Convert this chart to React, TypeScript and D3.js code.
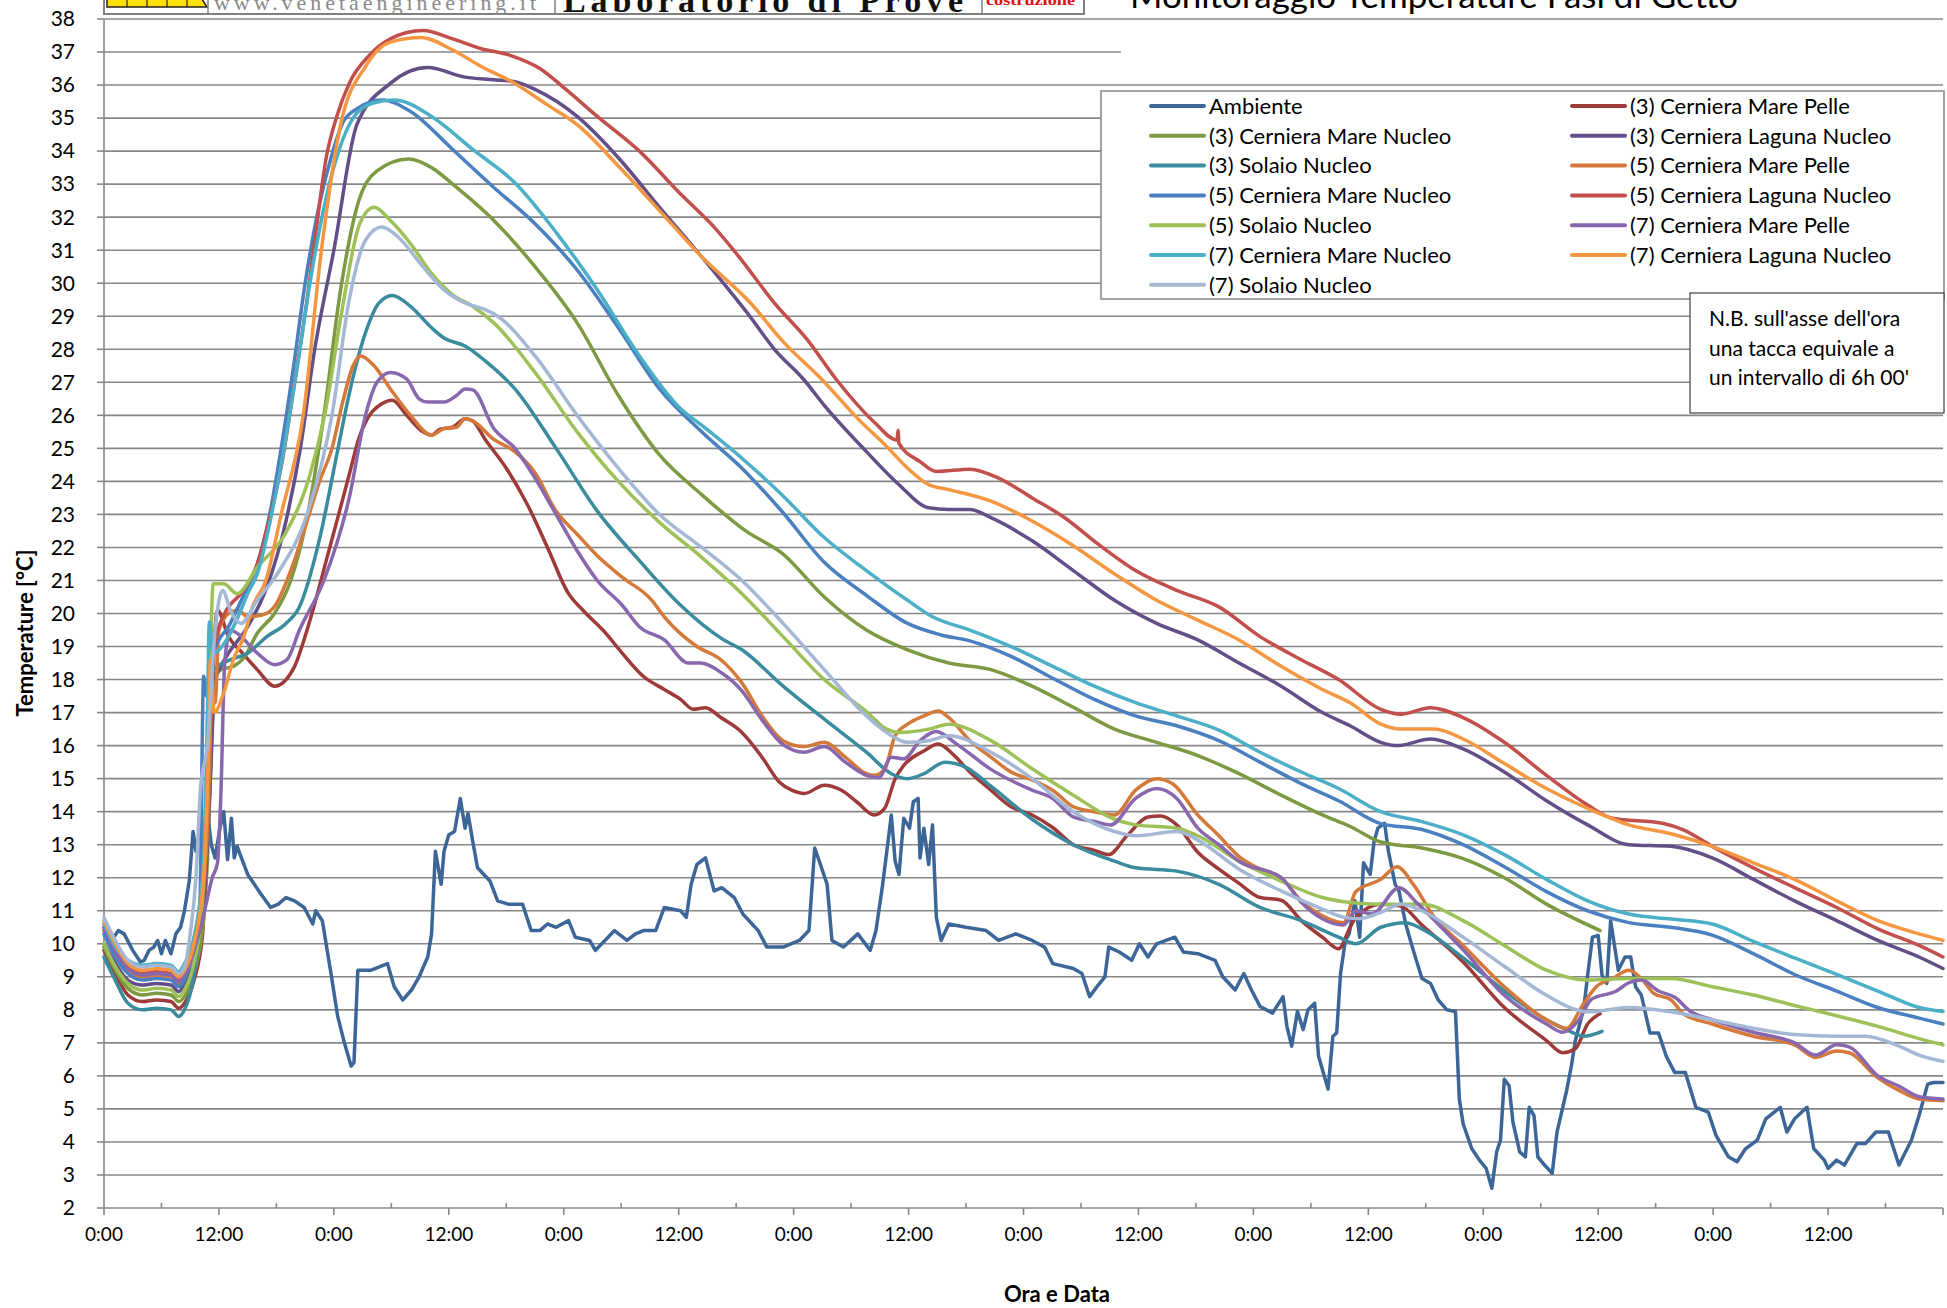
import React from "react";
import * as d3 from "d3";

const W = 1947;
const H = 1308;
const FONT = "Lato, 'Open Sans', sans-serif";
const SERIF = "'Liberation Serif', 'DejaVu Serif', serif";

// readings: [hours from start, temperature °C]
const ambiente = [
  [0, 10.4], [0.8, 10.1], [1.5, 10.4], [2.1, 10.3], [3, 9.8], [3.8, 9.45], [4.2, 9.5], [4.7, 9.8], [5.2, 9.9], [5.6, 10.1],
  [6, 9.7], [6.4, 10.1], [7, 9.7], [7.5, 10.3], [8, 10.5], [8.4, 11.0], [8.9, 11.9], [9.3, 13.4], [9.6, 12.8], [10, 13.4],
  [10.4, 12.9], [10.8, 14], [11.2, 13], [11.6, 12.6], [12.1, 13.5], [12.5, 14.0], [12.9, 12.55], [13.3, 13.8], [13.6, 12.6],
  [13.9, 12.95], [15, 12.1], [16.4, 11.5], [17.4, 11.1], [18.2, 11.2], [19, 11.4], [19.9, 11.3], [20.9, 11.1], [21.8, 10.6],
  [22.1, 11.0], [22.8, 10.7], [23.3, 9.8], [23.7, 9.1], [24.4, 7.8], [25.1, 7.0], [25.8, 6.3], [26.1, 6.4], [26.5, 9.2],
  [27.9, 9.2], [29.6, 9.4], [30.3, 8.7], [31.2, 8.3], [32.1, 8.6], [32.9, 9.0], [33.8, 9.6], [34.2, 10.3], [34.6, 12.8],
  [34.9, 12.3], [35.2, 11.8], [35.5, 12.8], [36, 13.3], [36.6, 13.4], [37.2, 14.4], [37.7, 13.5], [38, 13.95], [38.5, 13.1],
  [39, 12.3], [40.3, 11.9], [41.1, 11.3], [42.2, 11.2], [43.7, 11.2], [44.6, 10.4], [45.5, 10.4], [46.3, 10.6], [47.2, 10.5],
  [48.5, 10.7], [49.2, 10.2], [50.7, 10.1], [51.3, 9.8], [52.3, 10.1], [53.3, 10.4], [54.6, 10.1], [55.5, 10.3], [56.3, 10.4],
  [57.6, 10.4], [58.5, 11.1], [60.2, 11.0], [60.8, 10.8], [61.3, 11.8], [61.9, 12.4], [62.8, 12.6], [63.7, 11.6], [64.5, 11.7],
  [65.8, 11.4], [66.7, 10.9], [68.3, 10.4], [69.2, 9.9], [70.9, 9.9], [72.6, 10.1], [73.6, 10.4], [74.2, 12.9], [74.8, 12.4],
  [75.5, 11.8], [76, 10.1], [77.2, 9.9], [78.7, 10.3], [80, 9.8], [80.6, 10.4], [81.3, 11.8], [82.2, 13.9], [82.6, 12.5],
  [83, 12.1], [83.5, 13.8], [84.1, 13.5], [84.5, 14.3], [85, 14.4], [85.2, 12.6], [85.6, 13.5], [86.1, 12.4], [86.5, 13.6],
  [86.9, 10.8], [87.4, 10.1], [88.2, 10.6], [90, 10.5], [92.1, 10.4], [93.4, 10.1], [95.2, 10.3], [96.9, 10.1], [98.2, 9.9],
  [99.05, 9.4], [101.2, 9.25], [102.1, 9.1], [102.9, 8.4], [103.8, 8.75], [104.5, 9.0], [104.9, 9.9], [106, 9.75], [107.3, 9.5],
  [108.1, 10.0], [109, 9.6], [109.9, 10.0], [111.8, 10.2], [112.7, 9.75], [114.2, 9.7], [116, 9.5], [116.8, 9.0], [118.1, 8.6],
  [119, 9.1], [119.8, 8.6], [120.7, 8.1], [122, 7.9], [123.1, 8.4], [123.5, 7.5], [124, 6.9], [124.6, 7.95], [125.2, 7.4],
  [125.7, 8.0], [126.4, 8.2], [126.8, 6.6], [127.4, 6.0], [127.8, 5.6], [128.3, 7.2], [128.7, 7.3], [129.1, 9.1], [129.6, 10.1],
  [130, 10.3], [130.6, 11.3], [131.1, 10.2], [131.5, 12.45], [132.2, 12.1], [132.6, 13.1], [133, 13.5], [133.7, 13.65],
  [134.1, 12.8], [134.8, 11.8], [135.2, 11.6], [135.9, 10.6], [136.7, 9.8], [137.6, 8.95], [138.5, 8.8], [139.3, 8.3],
  [140.2, 8.0], [141.1, 7.95], [141.5, 5.3], [141.9, 4.55], [142.8, 3.8], [143.6, 3.45], [144.3, 3.2], [144.9, 2.6], [145.4, 3.7],
  [145.8, 4.05], [146.2, 5.9], [146.7, 5.7], [147.1, 4.6], [147.8, 3.7], [148.4, 3.55], [148.8, 5.05], [149.3, 4.8],
  [149.7, 3.55], [150.4, 3.3], [151.2, 3.05], [151.7, 4.3], [152.1, 4.8], [152.7, 5.55], [153.2, 6.3], [153.6, 7.05],
  [154.5, 8.05], [154.9, 9.05], [155.4, 10.2], [156, 10.25], [156.4, 9.05], [156.9, 8.8], [157.3, 10.7], [157.7, 9.95],
  [158.1, 9.2], [158.8, 9.6], [159.4, 9.6], [159.9, 8.7], [160.5, 8.45], [161.4, 7.3], [162.3, 7.3], [163.1, 6.6], [164, 6.1],
  [165.1, 6.1], [166.2, 5.05], [167.5, 4.9], [168.3, 4.2], [169.6, 3.55], [170.5, 3.4], [171.4, 3.8], [172.6, 4.05],
  [173.5, 4.7], [175, 5.05], [175.7, 4.3], [176.5, 4.7], [177.8, 5.05], [178.5, 3.8], [179.6, 3.45], [180, 3.2], [180.9, 3.45],
  [181.7, 3.3], [183, 3.95], [183.9, 3.95], [185, 4.3], [186.3, 4.3], [187.4, 3.3], [188.7, 4.05], [189.5, 4.8], [190.4, 5.75],
  [191, 5.8], [192, 5.8],
];

const cmp3 = [
  [0, 9.8], [1, 9.2], [2.5, 8.45], [4, 8.25], [5.5, 8.3], [7, 8.25], [7.8, 8.05], [8.4, 8.2], [9.4, 8.9], [10.3, 10.3],
  [10.6, 12], [11.1, 15], [11.5, 19], [11.85, 20.1], [13, 19.3], [14.3, 18.85], [16, 18.3], [17.8, 17.8], [19.9, 18.4],
  [21.2, 19.5], [22.1, 20.4], [23.2, 21.6], [24.5, 23.0], [25.6, 24.2], [26.6, 25.3], [27.5, 25.9], [29, 26.35], [30.1, 26.46],
  [31.6, 26.0], [33.3, 25.5], [34.2, 25.4], [35.1, 25.58], [36.4, 25.64], [37.7, 25.9], [38.5, 25.83], [39.8, 25.27], [42, 24.4],
  [44.2, 23.3], [46.3, 22.0], [48.5, 20.6], [50, 20.1], [52.4, 19.4], [54.1, 18.8], [56.3, 18.1], [58.5, 17.7], [60.2, 17.4],
  [61.5, 17.1], [62.8, 17.15], [64.4, 16.85], [66.6, 16.4], [68.7, 15.65], [70.5, 14.9], [71.8, 14.65], [73.1, 14.55],
  [75.2, 14.8], [77, 14.65], [78.7, 14.27], [80.4, 13.9], [81.5, 14.1], [82.6, 15.0], [83.5, 15.4], [85.6, 15.84], [87.1, 16.05],
  [88.7, 15.72], [90.4, 15.2], [92.6, 14.65], [94.7, 14.15], [96.9, 13.9], [99.05, 13.52], [101.2, 13.0], [103.4, 12.83],
  [104.9, 12.7], [106.8, 13.27], [109, 13.84], [110.3, 13.87], [112, 13.6], [114.2, 12.77], [116.4, 12.26], [118.5, 11.83],
  [120.7, 11.4], [122.9, 11.32], [125, 10.7], [127.2, 10.2], [128.9, 9.85], [130.1, 10.5], [130.7, 10.8], [133.3, 11.2],
  [135.4, 11.14], [137.6, 10.57], [141.9, 9.45], [146.2, 8.07], [150.6, 7.07], [152.3, 6.7], [153.6, 6.82], [154.9, 7.57],
  [156.2, 7.88],
];

const cmn3 = [
  [0, 9.9], [1, 9.3], [2.5, 8.65], [4, 8.45], [5.5, 8.5], [7, 8.45], [7.8, 8.25], [8.4, 8.4], [9.4, 9.1], [10.4, 10.8],
  [10.8, 12.5], [11.2, 16], [11.6, 18], [12.2, 18.3], [13.5, 18.4], [14.7, 18.7], [16, 19.4], [17.8, 20.0], [19.5, 21.0],
  [21.2, 22.9], [22.96, 26.0], [24.7, 29.8], [26.4, 32.3], [28.5, 33.4], [31.8, 33.76], [34.2, 33.5], [36.4, 33.0],
  [40.7, 31.9], [45, 30.5], [49.4, 28.8], [53.7, 26.6], [58, 24.8], [62.4, 23.6], [67, 22.5], [70.9, 21.8], [75.2, 20.5],
  [79.6, 19.5], [83.9, 18.9], [88.2, 18.5], [92.6, 18.3], [96.9, 17.8], [101.2, 17.16], [105.5, 16.5], [109.9, 16.1],
  [114.2, 15.7], [118.5, 15.15], [122.9, 14.5], [127.2, 13.9], [130.1, 13.55], [133.3, 13.08], [137.6, 12.9], [141.9, 12.58],
  [146.2, 12.0], [150.6, 11.2], [156.2, 10.4],
];

const cln3 = [
  [0, 10.0], [1, 9.5], [2.5, 8.9], [4, 8.75], [5.5, 8.8], [7, 8.75], [7.8, 8.55], [8.4, 8.8], [9.4, 9.6], [10.5, 11.5],
  [11.1, 15], [11.6, 18], [12.2, 18.4], [13, 18.8], [15, 19.6], [17, 20.8], [19, 22.8], [20.5, 25], [22, 28], [24, 31],
  [26.4, 34.8], [29.9, 36.05], [33.8, 36.53], [37.7, 36.24], [40.7, 36.16], [42.9, 36.1], [45, 35.87], [49.4, 35.05],
  [53.7, 33.8], [58, 32.3], [62.4, 30.8], [67.5, 28.97], [70, 28.0], [73.1, 27.07], [75.2, 26.3], [79.6, 24.9], [83, 23.9],
  [86.1, 23.2], [88.2, 23.15], [90.4, 23.15], [92.6, 22.9], [96.9, 22.2], [101.2, 21.3], [105.5, 20.4], [109.9, 19.7],
  [114.2, 19.2], [118.5, 18.5], [122.9, 17.8], [127.2, 17.0], [130.1, 16.6], [133.3, 16.1], [135, 16.0], [138.5, 16.2],
  [141.9, 15.9], [146.2, 15.2], [150.6, 14.33], [154.9, 13.6], [159.2, 13.0], [163.6, 12.95], [167.9, 12.6], [172.2, 11.95],
  [176.5, 11.3], [180.9, 10.7], [185.2, 10.1], [189.5, 9.6], [192, 9.25],
];

const sn3 = [
  [0, 9.6], [1, 9.0], [2.5, 8.2], [4, 8.0], [5.5, 8.05], [7, 8.0], [7.8, 7.8], [8.4, 8.0], [9.3, 8.9], [10, 10.5],
  [10.6, 13], [11, 17.5], [11.5, 18.3], [13.2, 18.6], [15, 18.8], [17, 19.3], [19, 19.7], [20.4, 20.2], [22.5, 22.25],
  [24.3, 24.8], [25.6, 26.65], [27.3, 28.5], [28.7, 29.4], [30.1, 29.63], [32, 29.3], [34.2, 28.65], [35.5, 28.34], [37.7, 28.1],
  [39.8, 27.65], [42.9, 26.8], [47.2, 25.0], [51.5, 23.1], [55.9, 21.6], [60.2, 20.25], [64.5, 19.24], [66.6, 18.9],
  [70.9, 17.8], [75.2, 16.8], [79.6, 15.8], [82.2, 15.15], [83.9, 15.0], [85.6, 15.15], [87.8, 15.5], [90, 15.34], [92.6, 14.77],
  [96.9, 13.77], [101.2, 13.0], [105.5, 12.5], [107.7, 12.3], [112, 12.2], [116.4, 11.8], [120.7, 11.1], [125, 10.7],
  [128.9, 10.2], [130.7, 10.0], [133.3, 10.5], [135.9, 10.64], [137.6, 10.45], [141.9, 9.57], [146.2, 8.57], [150.6, 7.7],
  [152.7, 7.4], [154.5, 7.2], [156.4, 7.35],
];

const cmp5 = [
  [0, 10.4], [1, 9.8], [2.5, 9.2], [4, 9.0], [5.5, 9.05], [7, 9.0], [7.8, 8.8], [8.4, 9.0], [9.4, 9.8], [10.5, 12],
  [11.0, 15], [11.3, 18.0], [11.6, 17.3], [12, 19.5], [13, 20.0], [14, 20.1], [15, 19.9], [16.5, 19.95], [18, 20.3],
  [19.1, 21.0], [20, 21.7], [21.2, 22.8], [22.5, 24.0], [23.8, 25.0], [25, 26.5], [26, 27.5], [26.8, 27.8], [28.2, 27.5],
  [29.9, 26.8], [32, 26.0], [34.2, 25.4], [35.5, 25.6], [36.8, 25.64], [37.7, 25.9], [38.5, 25.83], [40.7, 25.27], [42.9, 24.9],
  [45, 24.26], [47.2, 23.1], [49.4, 22.4], [51.5, 21.75], [54.1, 21.1], [57.2, 20.4], [58.5, 19.9], [61.9, 19.0], [64.4, 18.6],
  [66.6, 17.9], [68.7, 16.9], [70.9, 16.15], [73.1, 15.97], [75.2, 16.1], [77.4, 15.65], [79.6, 15.15], [80.4, 15.1],
  [81.5, 15.28], [82.6, 16.3], [83.9, 16.65], [85.6, 16.9], [87.1, 17.05], [88.2, 16.85], [90.4, 16.15], [92.6, 15.65],
  [94.7, 15.2], [96.9, 14.96], [99.05, 14.65], [101.2, 14.15], [103.4, 14.0], [105.5, 13.9], [107.7, 14.65], [109.9, 15.0],
  [111.6, 14.84], [114.2, 13.9], [116.4, 13.27], [118.5, 12.64], [120.7, 12.26], [122.9, 12.0], [125, 11.3], [127.2, 10.85],
  [129.4, 10.64], [130.7, 11.58], [133.3, 11.95], [135, 12.33], [136.7, 11.8], [138.9, 10.8], [141.9, 9.95], [146.2, 8.7],
  [150.6, 7.7], [152.7, 7.44], [154.5, 8.2], [155.8, 8.7], [157.5, 8.95], [159.2, 9.2], [160.5, 8.95], [161.8, 8.5],
  [163.6, 8.3], [164.9, 7.88], [167.9, 7.57], [172.2, 7.2], [176.5, 6.94], [178.7, 6.56], [180.9, 6.75], [182.2, 6.7],
  [185.2, 5.94], [187.4, 5.56], [189.5, 5.3], [192, 5.25],
];

const cmn5 = [
  [0, 10.3], [1, 9.7], [2.5, 9.1], [4, 8.9], [5.5, 8.95], [7, 8.9], [7.8, 8.7], [8.4, 8.9], [9.2, 9.7], [10.0, 11],
  [10.4, 18.1], [10.7, 17.5], [11.1, 18.5], [12, 19.2], [13, 19.6], [14, 20.2], [15, 20.8], [16, 21.5], [17.3, 23], [18.5, 25],
  [19.8, 27.5], [21, 30], [22.5, 32.4], [23.8, 33.9], [25, 34.9], [26.5, 35.3], [29, 35.55], [32, 35.2], [36.4, 34.05],
  [40.7, 32.9], [45, 31.8], [49.4, 30.4], [53.7, 28.65], [58, 26.8], [62.4, 25.5], [66.6, 24.4], [70.9, 23.05], [75.2, 21.55],
  [79.6, 20.55], [83.9, 19.7], [87.4, 19.35], [90.4, 19.17], [94.7, 18.7], [99.05, 18.04], [103.4, 17.4], [107.7, 16.9],
  [112, 16.6], [116.4, 16.15], [120.7, 15.5], [125, 14.85], [128.9, 14.33], [133.3, 13.64], [137.6, 13.46], [141.9, 13.0],
  [146.2, 12.33], [150.6, 11.58], [154.9, 11.0], [159.2, 10.64], [163.6, 10.5], [167.9, 10.26], [172.2, 9.7], [176.5, 9.07],
  [180.9, 8.57], [185.2, 8.07], [189.5, 7.75], [192, 7.57],
];

const cln5 = [
  [0, 10.5], [1, 9.9], [2.5, 9.3], [4, 9.1], [5.5, 9.15], [7, 9.1], [7.8, 8.9], [8.4, 9.2], [9.3, 10], [10.4, 12.5],
  [10.9, 16.5], [11.3, 18.5], [11.8, 19.4], [12.6, 20.0], [14.7, 20.75], [16, 21.5], [17.3, 22.9], [18.6, 24.6], [19.9, 27.0],
  [21.2, 29.5], [22.1, 31.5], [23.2, 33.8], [24.3, 35.05], [25.6, 36.05], [27.7, 36.9], [29.9, 37.4], [33.3, 37.65],
  [36.4, 37.4], [39.4, 37.1], [42.4, 36.9], [45.5, 36.5], [48.1, 35.9], [51.5, 35.05], [55.9, 34.0], [60.2, 32.7], [63.7, 31.7],
  [66.3, 30.8], [70, 29.4], [73.4, 28.3], [76.5, 27.07], [80.4, 25.8], [82.8, 25.25], [82.9, 25.55], [83, 25.15], [85.2, 24.6],
  [86.9, 24.3], [90.4, 24.37], [93.4, 24.1], [96.9, 23.5], [100.3, 22.9], [103.8, 22.1], [107.7, 21.3], [112, 20.7],
  [116.4, 20.2], [120.7, 19.3], [125, 18.6], [128.9, 18.0], [133.3, 17.1], [135.4, 16.95], [138.5, 17.15], [141.9, 16.85],
  [146.2, 16.1], [150.6, 15.1], [154.9, 14.2], [157.5, 13.8], [162.7, 13.65], [164.9, 13.45], [167.9, 12.95], [172.2, 12.3],
  [176.5, 11.7], [180.9, 11.1], [185.2, 10.45], [189.5, 9.95], [192, 9.6],
];

const sn5 = [
  [0, 10.0], [1, 9.4], [2.5, 8.8], [4, 8.6], [5.5, 8.65], [7, 8.6], [7.8, 8.4], [8.4, 8.6], [9.3, 9.3], [10.2, 11.0],
  [10.9, 16], [11.4, 20.9], [12.5, 20.9], [13.9, 20.6], [16, 21.4], [18.9, 22.4], [21.5, 24.2], [23.1, 26.1], [24.8, 29.1],
  [26.7, 31.8], [28.2, 32.3], [29.9, 31.9], [32, 31.2], [34.2, 30.3], [36.4, 29.65], [38.5, 29.3], [40.7, 28.8], [45, 27.3],
  [49.4, 25.5], [53.7, 24.0], [58, 22.76], [62.4, 21.7], [66.6, 20.6], [70.9, 19.3], [75.2, 18.0], [79.6, 17.03], [81.7, 16.5],
  [83, 16.4], [86.1, 16.5], [88.2, 16.65], [92.6, 16.15], [96.9, 15.3], [101.2, 14.5], [105.5, 13.77], [107.7, 13.6],
  [112, 13.5], [114.2, 13.27], [118.5, 12.5], [122.9, 11.9], [127.2, 11.4], [130.1, 11.25], [133.3, 11.2], [137.6, 11.2],
  [141.9, 10.7], [146.2, 9.95], [150.6, 9.2], [154.9, 8.9], [159.2, 8.95], [163.6, 8.95], [167.9, 8.7], [172.2, 8.45],
  [176.5, 8.13], [180.9, 7.82], [185.2, 7.5], [189.5, 7.13], [192, 6.94],
];

const cmp7 = [
  [0, 10.5], [1, 9.9], [2.5, 9.25], [4, 9.05], [5.5, 9.1], [7, 9.05], [7.8, 8.85], [8.4, 9.05], [9.4, 9.8], [10.5, 11.0],
  [11.3, 12.0], [11.85, 12.45], [12.2, 14.5], [12.6, 18.5], [13.2, 19.5], [13.9, 19.4], [16, 18.8], [17.8, 18.45],
  [19.1, 18.6], [20.4, 19.5], [22.96, 21.0], [25.6, 23.5], [27.3, 26.0], [28.5, 27.0], [29.9, 27.3], [31.6, 27.1],
  [32.9, 26.5], [33.8, 26.4], [35.5, 26.4], [36.8, 26.6], [37.7, 26.8], [38.5, 26.77], [40.7, 25.6], [42.9, 25.0], [45, 24.1],
  [47.2, 23.0], [49.4, 21.9], [51.5, 21.0], [54.1, 20.25], [55.9, 19.6], [58.5, 19.2], [61, 18.5], [62.25, 18.5], [64.5, 18.2],
  [66.6, 17.66], [68.7, 16.78], [70.9, 16.03], [73.1, 15.8], [75.2, 15.97], [77.4, 15.5], [79.6, 15.1], [80.9, 15.03],
  [82.2, 15.65], [83.5, 15.6], [85.2, 16.15], [86.9, 16.43], [89.1, 16.03], [92.6, 15.28], [96.9, 14.65], [99.05, 14.4],
  [101.2, 13.84], [103.4, 13.7], [105.1, 13.6], [107.7, 14.4], [109.9, 14.7], [112, 14.4], [114.2, 13.5], [116.4, 13.0],
  [118.5, 12.5], [122.9, 12.0], [125, 11.26], [127.2, 10.76], [129.4, 10.57], [130.7, 11.0], [132.4, 10.9], [135.2, 11.7],
  [137.2, 11.2], [139.8, 10.45], [141.9, 9.82], [146.2, 8.44], [150.6, 7.57], [152.3, 7.32], [154, 7.7], [155.3, 8.32],
  [157.9, 8.57], [159.2, 8.82], [160.5, 8.9], [162.3, 8.57], [164, 8.38], [165.7, 7.94], [167.9, 7.7], [172.2, 7.32],
  [176.5, 7.0], [178.7, 6.63], [180.9, 6.94], [182.2, 6.88], [185.2, 6.0], [187.4, 5.69], [189.5, 5.37], [192, 5.3],
];

const cmn7 = [
  [0, 10.6], [1, 10.0], [2.5, 9.5], [4, 9.35], [5.5, 9.4], [7, 9.35], [7.8, 9.15], [8.4, 9.4], [9.4, 10.2], [10.4, 12.5],
  [10.8, 17], [11.0, 19.75], [11.4, 18.8], [12, 18.9], [13, 19.3], [14, 19.9], [15, 20.6], [16, 21.2], [17.5, 23], [18.8, 25],
  [20.2, 27.5], [21.5, 30], [23.2, 32.6], [24.5, 34], [26, 35], [28, 35.45], [30.3, 35.55], [34.2, 35.05], [38.5, 34.05],
  [42.9, 33.04], [47.2, 31.54], [51.5, 29.8], [55.9, 27.8], [60.2, 26.2], [62.4, 25.7], [66.6, 24.7], [70.9, 23.56],
  [75.2, 22.3], [79.6, 21.3], [83.9, 20.4], [86.5, 19.9], [90.4, 19.5], [94.7, 19.0], [99.05, 18.4], [103.4, 17.8],
  [107.7, 17.3], [112, 16.9], [116.4, 16.47], [120.7, 15.8], [125, 15.2], [128.9, 14.7], [133.3, 14.0], [137.6, 13.7],
  [141.9, 13.3], [146.2, 12.7], [150.6, 11.95], [154.9, 11.3], [159.2, 10.9], [163.6, 10.75], [167.9, 10.6], [172.2, 10.07],
  [176.5, 9.57], [180.9, 9.07], [185.2, 8.57], [189.5, 8.07], [192, 7.95],
];

const cln7 = [
  [0, 10.7], [1, 10.1], [2.5, 9.4], [4, 9.2], [5.5, 9.25], [7, 9.2], [7.8, 9.0], [8.4, 9.2], [9.4, 10], [10.4, 12],
  [10.9, 16], [11.1, 18.6], [11.5, 17.0], [12.5, 17.6], [13.5, 18.6], [14.6, 19.3], [15.5, 20.2], [16.9, 21.0], [18.5, 23],
  [20.8, 26.0], [22.7, 31.0], [24.7, 34.8], [27.3, 36.56], [29.9, 37.3], [33.1, 37.44], [36.4, 37.06], [39.4, 36.56],
  [42.9, 36.05], [46.3, 35.4], [49.4, 34.8], [53.7, 33.55], [58, 32.2], [62.4, 30.8], [67.5, 29.4], [71, 28.2], [75, 27.07],
  [78.7, 25.9], [81.7, 25.06], [83.9, 24.4], [86.1, 23.9], [88.2, 23.75], [92.6, 23.4], [96.9, 22.8], [101.2, 22.05],
  [105.5, 21.2], [109.9, 20.4], [114.2, 19.8], [118.5, 19.2], [122.9, 18.4], [127.2, 17.7], [130.1, 17.3], [133.3, 16.65],
  [135.4, 16.5], [138.9, 16.5], [141.9, 16.2], [146.2, 15.46], [150.6, 14.7], [154.9, 14.1], [159.2, 13.6], [163.6, 13.33],
  [167.9, 12.95], [172.2, 12.45], [176.5, 11.95], [180.9, 11.3], [185.2, 10.7], [189.5, 10.3], [192, 10.1],
];

const sn7 = [
  [0, 10.8], [1, 10.2], [2.5, 9.5], [4, 9.3], [5.5, 9.35], [7, 9.3], [7.8, 9.1], [8.4, 9.3], [9.0, 10.3], [9.6, 12.0],
  [10.1, 14.8], [10.8, 16], [11.6, 19.5], [12.4, 20.7], [13.2, 20.1], [14.3, 19.7], [16, 20.4], [18.2, 21.25], [21.2, 23.0],
  [23.8, 26.0], [25.6, 29.5], [27.3, 31.3], [29, 31.7], [30.7, 31.4], [33.3, 30.5], [35.5, 29.8], [37.7, 29.4], [39.8, 29.2],
  [41.1, 29.0], [45, 27.8], [49.4, 26.0], [53.7, 24.4], [58, 23.0], [62.4, 22.0], [66.6, 21.0], [70.9, 19.7], [75.2, 18.3],
  [79.6, 16.9], [81.7, 16.4], [83.9, 16.1], [86.1, 16.15], [88.2, 16.3], [92.6, 15.8], [96.9, 15.0], [101.2, 14.0],
  [105.5, 13.4], [107.7, 13.27], [112, 13.4], [114.2, 13.14], [118.5, 12.26], [122.9, 11.6], [127.2, 11.05], [129.5, 10.8],
  [131.1, 10.76], [133.3, 10.95], [135.4, 11.2], [137.6, 11.0], [141.9, 10.2], [146.2, 9.32], [150.6, 8.44], [154.9, 7.94],
  [159.2, 8.07], [163.6, 7.94], [167.9, 7.7], [172.2, 7.44], [176.5, 7.25], [180.9, 7.2], [183.9, 7.2], [187.4, 6.9],
  [189.5, 6.63], [192, 6.44],
];

const seriesNames = [
  "Ambiente",
  "(3) Cerniera Mare Pelle",
  "(3) Cerniera Mare Nucleo",
  "(3) Cerniera Laguna Nucleo",
  "(3) Solaio Nucleo",
  "(5) Cerniera Mare Pelle",
  "(5) Cerniera Mare Nucleo",
  "(5) Cerniera Laguna Nucleo",
  "(5) Solaio Nucleo",
  "(7) Cerniera Mare Pelle",
  "(7) Cerniera Mare Nucleo",
  "(7) Cerniera Laguna Nucleo",
  "(7) Solaio Nucleo",
];
const seriesColors = [
  "#3c6697", "#9e3b39", "#7d9a42", "#634e88", "#3a8b9d", "#d5793a", "#4a7fc0",
  "#c24f4c", "#9dc057", "#8867ae", "#4bafc8", "#f59640", "#a4b8d6",
];
const seriesData = [ambiente, cmp3, cmn3, cln3, sn3, cmp5, cmn5, cln5, sn5, cmp7, cmn7, cln7, sn7];

const xTickHours = d3.range(0, 193, 12);
const xTickLabels = ["0:00", "12:00", "0:00", "12:00", "0:00", "12:00", "0:00", "12:00",
  "0:00", "12:00", "0:00", "12:00", "0:00", "12:00", "0:00", "12:00"];
const yTicks = d3.range(2, 39);
const noteLines = ["N.B. sull'asse dell'ora", "una tacca equivale a", "un intervallo di 6h 00'"];

const x = d3.scaleLinear().domain([0, 192]).range([104, 1943]);
const y = d3.scaleLinear().domain([2, 38]).range([1208, 19]);

const GRID = "#878787";

export default function App() {
  const smooth = d3.line<number[]>().x(d => x(d[0])).y(d => y(d[1])).curve(d3.curveMonotoneX);
  const jagged = d3.line<number[]>().x(d => x(d[0])).y(d => y(d[1]));

  return (
    <svg width={W} height={H} style={{ position: "absolute", left: 0, top: 0, background: "#fff" }}
      fontFamily={FONT}>
      <rect width={W} height={H} fill="#fff" />

      {/* gridlines */}
      {yTicks.map(t => (
        <line key={t} x1={x(0)} x2={x(192)} y1={y(t)} y2={y(t)} stroke={GRID} strokeWidth={1.6} />
      ))}
      {/* white title box hides part of the 37 line */}
      <rect x={1121} y={30} width={W - 1121} height={40} fill="#fff" />

      {/* axes */}
      <line x1={x(0)} x2={x(0)} y1={y(38)} y2={y(2)} stroke={GRID} strokeWidth={1.6} />
      {yTicks.map(t => (
        <g key={"yt" + t}>
          <line x1={x(0) - 7} x2={x(0)} y1={y(t)} y2={y(t)} stroke={GRID} strokeWidth={1.6} />
          <text x={75} y={y(t)} dy="0.35em" textAnchor="end" fontSize={21}>{t}</text>
        </g>
      ))}
      {xTickHours.map((h, i) => (
        <g key={"xt" + h}>
          <line x1={x(h)} x2={x(h)} y1={y(2)} y2={y(2) + 7} stroke={GRID} strokeWidth={1.6} />
          {h < 192 && <line x1={x(h + 6)} x2={x(h + 6)} y1={y(2) - 5} y2={y(2)} stroke={GRID} strokeWidth={1.6} />}
          {xTickLabels[i] && (
            <text x={x(h)} y={1241} textAnchor="middle" fontSize={19}>{xTickLabels[i]}</text>
          )}
        </g>
      ))}

      {/* series */}
      {seriesData.map((d, i) => (
        <path key={seriesNames[i]} d={(i === 0 ? jagged : smooth)(d) || ""} fill="none"
          stroke={seriesColors[i]} strokeWidth={3.5} strokeLinejoin="round" strokeLinecap="round" />
      ))}

      {/* axis titles */}
      <text transform="translate(25,633) rotate(-90)" textAnchor="middle" dy="0.35em"
        fontSize={22} fontWeight="bold">Temperature [°C]</text>
      <text x={1057} y={1302} textAnchor="middle" fontSize={22} fontWeight="bold">Ora e Data</text>

      {/* legend */}
      <rect x={1101} y={91} width={843} height={208} fill="#fff" stroke="#8c8c8c" strokeWidth={1.6} />
      {seriesNames.map((name, i) => {
        const col = i % 2;
        const row = Math.floor(i / 2);
        const lx = col === 0 ? 1151 : 1572;
        const ly = 106 + row * 29.8;
        return (
          <g key={"lg" + name}>
            <line x1={lx} x2={lx + 53} y1={ly} y2={ly} stroke={seriesColors[i]} strokeWidth={4} strokeLinecap="round" />
            <text x={lx + 58} y={ly} dy="0.35em" fontSize={22}>{name}</text>
          </g>
        );
      })}

      {/* note box */}
      <rect x={1690} y={293} width={254} height={120} fill="#fff" stroke="#404040" strokeWidth={1.2} />
      {noteLines.map((s, i) => (
        <text key={s} x={1709} y={319 + i * 29.5} dy="0.35em" fontSize={21}>{s}</text>
      ))}

      {/* title, clipped at the top edge as in the source */}
      <text x={1130} y={8} fontSize={32} textLength={608} lengthAdjust="spacingAndGlyphs">
        Monitoraggio Temperature Fasi di Getto
      </text>

      {/* logo strip, clipped at the top edge as in the source */}
      <g>
        <rect x={104} y={-20} width={980} height={34} fill="#fff" stroke="#808080" strokeWidth={2} />
        <polygon points="107,-4 200,-4 207,7 107,7" fill="#ffe000" stroke="#222" strokeWidth={1.5} />
        {[127, 147, 167, 187].map(v => (
          <line key={v} x1={v} x2={v} y1={-4} y2={7} stroke="#222" strokeWidth={1.2} />
        ))}
        <line x1={208} x2={208} y1={-20} y2={14} stroke="#808080" strokeWidth={1.5} />
        <line x1={555} x2={555} y1={-20} y2={14} stroke="#808080" strokeWidth={1.5} />
        <line x1={982} x2={982} y1={-20} y2={14} stroke="#808080" strokeWidth={1.5} />
        <text x={214} y={10} fontFamily={SERIF} fontSize={22} fill="#8a8a8a" textLength={322}
          lengthAdjust="spacing">www.venetaengineering.it</text>
        <text x={563} y={12} fontFamily={SERIF} fontSize={34} fontWeight="bold" fill="#111" textLength={400}
          lengthAdjust="spacing">Laboratorio di Prove</text>
        <text x={986} y={5} fontFamily={SERIF} fontSize={14} fontWeight="bold" fill="#e01010" textLength={89}
          lengthAdjust="spacingAndGlyphs">costruzione</text>
      </g>
    </svg>
  );
}
